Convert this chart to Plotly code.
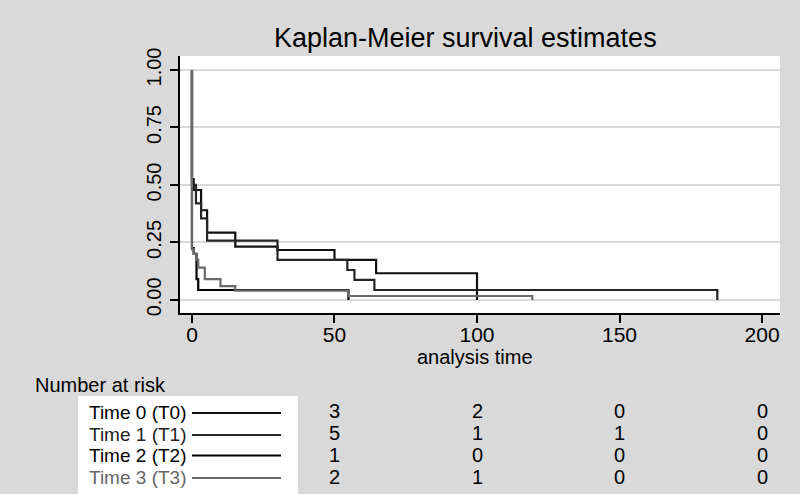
import plotly.graph_objects as go

# ---- data ----
groups = ["Time 0 (T0)", "Time 1 (T1)", "Time 2 (T2)", "Time 3 (T3)"]
colors = ["#111111", "#262626", "#000000", "#6a6a6a"]
text_colors = ["#000000", "#222222", "#000000", "#666666"]

t0_time = [0, 0, 0.6, 3.2, 5.3, 15.2, 30, 50, 64.6, 100]
t0_surv = [1, 0.525, 0.478, 0.39, 0.293, 0.232, 0.217, 0.174, 0.116, 0]

t1_time = [0, 0, 1.4, 3.2, 5.3, 30, 54.5, 57, 64, 184.3]
t1_surv = [1, 0.50, 0.42, 0.355, 0.258, 0.174, 0.13, 0.087, 0.043, 0]

t2_time = [0, 0, 0.6, 1.6, 2.2, 54.9]
t2_surv = [1, 0.225, 0.2, 0.09, 0.043, 0]

t3_time = [0, 0, 0.6, 1.4, 2.2, 4.5, 10.0, 15.2, 54.9, 119.4]
t3_surv = [1, 0.22, 0.2, 0.175, 0.14, 0.09, 0.06, 0.04, 0.017, 0]

times = [t0_time, t1_time, t2_time, t3_time]
survs = [t0_surv, t1_surv, t2_surv, t3_surv]

risk_cols = [50, 100, 150, 200]
risk_t0 = [3, 2, 0, 0]
risk_t1 = [5, 1, 1, 0]
risk_t2 = [1, 0, 0, 0]
risk_t3 = [2, 1, 0, 0]
risks = [risk_t0, risk_t1, risk_t2, risk_t3]

x_ticks = [0, 50, 100, 150, 200]
y_ticks = [0, 0.25, 0.5, 0.75, 1.0]
y_ticklabels = ["0.00", "0.25", "0.50", "0.75", "1.00"]

# ---- layout helpers (pixel -> paper) ----
W, H = 800, 494
L, R, T, B = 180, 780, 56, 313


def px(x):
    return (x - L) / (R - L)


def py(y):
    return (B - y) / (B - T)


FONT = "Liberation Sans, Arial, Helvetica, sans-serif"
BG = "#d9d9d9"

fig = go.Figure()
for i in range(4):
    fig.add_trace(go.Scatter(
        x=times[i], y=survs[i], mode="lines", line_shape="hv",
        line=dict(color=colors[i], width=2.2), name=groups[i],
        showlegend=False, hoverinfo="skip"))

fig.update_layout(
    width=W, height=H,
    margin=dict(l=L, r=W - R, t=T, b=H - B, pad=0),
    paper_bgcolor=BG, plot_bgcolor="white",
    font=dict(family=FONT, color="black", size=18),
    showlegend=False,
)
fig.update_xaxes(
    range=[-4.2, 206.3], tickvals=x_ticks, showgrid=False, zeroline=False,
    showline=True, linecolor="black", linewidth=1.5,
    ticks="outside", ticklen=8, tickwidth=1.5, tickcolor="black",
    tickfont=dict(size=21), ticklabelstandoff=-6,
)
fig.update_yaxes(
    range=[-0.057, 1.061], tickvals=y_ticks, ticktext=y_ticklabels,
    tickangle=-90, showgrid=True, gridcolor="#dadada", gridwidth=1.5,
    zeroline=False, showline=True, linecolor="black", linewidth=1.5,
    ticks="outside", ticklen=8, tickwidth=1.5, tickcolor="black",
    tickfont=dict(size=20), ticklabelstandoff=1,
)

ann = []
shapes = []
# title
ann.append(dict(text="Kaplan-Meier survival estimates", xref="paper", yref="paper",
                x=px(465), y=py(38), xanchor="center", yanchor="middle",
                showarrow=False, font=dict(size=27)))
# x axis title
ann.append(dict(text="analysis time", xref="paper", yref="paper",
                x=px(475), y=py(357), xanchor="center", yanchor="middle",
                showarrow=False, font=dict(size=20)))
# number at risk heading
ann.append(dict(text="Number at risk", xref="paper", yref="paper",
                x=px(33), y=py(385), xanchor="left", yanchor="middle",
                showarrow=False, font=dict(size=20)))

# legend box
shapes.append(dict(type="rect", xref="paper", yref="paper",
                   x0=px(78), x1=px(298), y0=py(496), y1=py(396),
                   fillcolor="white", line=dict(width=0), layer="below"))

row_y = [412, 434, 455.5, 477.5]
line_y = [413, 435, 455.5, 478]
for i in range(4):
    ann.append(dict(text=groups[i], xref="paper", yref="paper",
                    x=px(87), y=py(row_y[i]), xanchor="left", yanchor="middle",
                    showarrow=False, font=dict(size=19, color=text_colors[i])))
    shapes.append(dict(type="line", xref="paper", yref="paper",
                       x0=px(192), x1=px(281), y0=py(line_y[i]), y1=py(line_y[i]),
                       line=dict(color=colors[i], width=2.2)))
    for c, v in zip(risk_cols, risks[i]):
        ann.append(dict(text=str(v), xref="x", yref="paper",
                        x=c, y=py(row_y[i] - 1), xanchor="center", yanchor="middle",
                        showarrow=False, font=dict(size=20)))

fig.update_layout(annotations=ann, shapes=shapes)
fig.write_html("out.html", config={"displayModeBar": False})

# remove the browser's default body margin so the figure fills the window exactly
with open("out.html", "r", encoding="utf-8") as f:
    html = f.read()
html = html.replace("<head>", "<head><style>html,body{margin:0;padding:0;overflow:hidden;background:%s}</style>" % BG, 1)
with open("out.html", "w", encoding="utf-8") as f:
    f.write(html)
